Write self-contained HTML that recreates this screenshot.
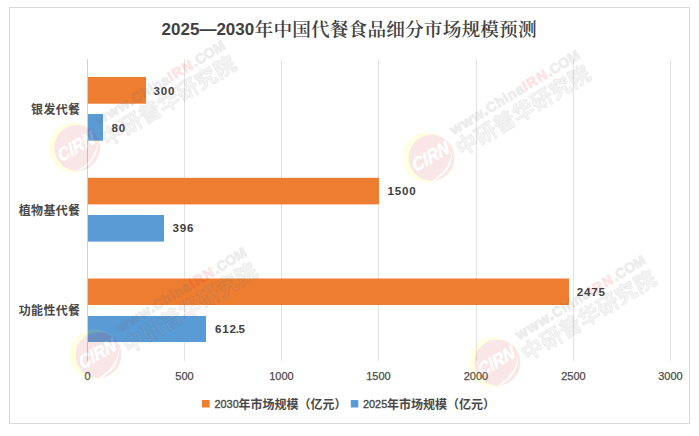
<!DOCTYPE html>
<html lang="zh-CN">
<head>
<meta charset="utf-8">
<title>2025—2030年中国代餐食品细分市场规模预测</title>
<style>
  html, body { margin: 0; padding: 0; background: #ffffff; }
  body { width: 699px; height: 436px; overflow: hidden; }
  svg { display: block; }
  .lat { font-family: "Liberation Sans", "Noto Sans CJK SC", sans-serif; }
  .cjk { font-family: "Liberation Sans", "Noto Serif CJK SC", serif; }
  .title-l { font-family: "Liberation Sans", "Noto Serif CJK SC", sans-serif; font-weight: 700; font-size: 17px; fill: #404040; }
  .title-c { font-family: "Liberation Serif", "Noto Serif CJK SC", serif; font-weight: 600; font-size: 18.67px; letter-spacing: 0.15px; fill: #404040; }
  .ax { font-family: "Liberation Sans", sans-serif; font-size: 11px; fill: #4a4a4a; stroke: #4a4a4a; stroke-width: 0.25px; text-anchor: middle; }
  .dl { font-family: "Liberation Sans", sans-serif; font-size: 11.6px; font-weight: 700; fill: #404040; letter-spacing: 0.8px; }
  .cat { font-family: "Liberation Sans", "Noto Sans CJK SC", sans-serif; font-size: 12px; font-weight: 700; fill: #484848; letter-spacing: 0.3px; text-anchor: end; }
  .lg-l { font-family: "Liberation Sans", sans-serif; font-size: 10.9px; font-weight: 400; fill: #4a4a4a; stroke: #4a4a4a; stroke-width: 0.35px; }
  .lg-c { font-family: "Liberation Sans", "Noto Sans CJK SC", sans-serif; font-size: 12px; font-weight: 700; fill: #484848; }
  .wm-url { font-family: "Liberation Sans", sans-serif; font-weight: 700; font-size: 14px; }
  .wm-cn { font-family: "Liberation Sans", "Noto Sans CJK SC", sans-serif; font-weight: 700; font-size: 21.5px; letter-spacing: 0.35px; }
  .wm-logo { font-family: "Liberation Sans", sans-serif; font-weight: 700; font-style: italic; font-size: 16.5px; }
</style>
</head>
<body>
<svg width="699" height="436" viewBox="0 0 699 436">
  <rect x="0" y="0" width="699" height="436" fill="#ffffff"/>
  <!-- chart frame -->
  <rect x="9.5" y="7.5" width="680" height="416" fill="#ffffff" stroke="#d9d9d9" stroke-width="1"/>

  <!-- gridlines -->
  <g fill="#e2e2e2">
    <rect x="184" y="59" width="1" height="302"/>
    <rect x="281" y="59" width="1" height="302"/>
    <rect x="378" y="59" width="1" height="302"/>
    <rect x="476" y="59" width="1" height="302"/>
    <rect x="573" y="59" width="1" height="302"/>
    <rect x="670" y="59" width="1" height="302"/>
  </g>
  <rect x="87" y="59" width="1" height="302" fill="#d0d0d0"/>

  <!-- bars -->
  <g fill="#ed7d31">
    <rect x="88" y="77" width="58" height="26.7"/>
    <rect x="88" y="177.8" width="291" height="26.6"/>
    <rect x="88" y="278.5" width="481" height="26.5"/>
  </g>
  <g fill="#5b9bd5">
    <rect x="88" y="114" width="15" height="26.7"/>
    <rect x="88" y="215" width="76" height="26.6"/>
    <rect x="88" y="316" width="118" height="26"/>
  </g>

  <!-- title -->
  <text x="161.6" y="34.5" class="title-l">2025—2030</text>
  <text x="254.6" y="35.5" class="title-c">年中国代餐食品细分市场规模预测</text>

  <!-- category labels -->
  <text x="80.3" y="113.5" class="cat">银发代餐</text>
  <text x="80.3" y="214.5" class="cat">植物基代餐</text>
  <text x="80.3" y="315" class="cat">功能性代餐</text>

  <!-- data labels -->
  <text x="153.5" y="95.2" class="dl">300</text>
  <text x="111.6" y="132" class="dl">80</text>
  <text x="387.6" y="195.2" class="dl">1500</text>
  <text x="172.5" y="232" class="dl">396</text>
  <text x="576.7" y="296" class="dl">2475</text>
  <text x="215.1" y="333" class="dl">612<tspan dx="-1.2">.</tspan><tspan dx="-1.2">5</tspan></text>

  <!-- axis labels -->
  <text x="87.5" y="380" class="ax">0</text>
  <text x="184.5" y="380" class="ax">500</text>
  <text x="281.5" y="380" class="ax">1000</text>
  <text x="378.5" y="380" class="ax">1500</text>
  <text x="476" y="380" class="ax">2000</text>
  <text x="573.5" y="380" class="ax">2500</text>
  <text x="670.5" y="380" class="ax">3000</text>

  <!-- legend -->
  <rect x="202" y="400" width="7.7" height="7.5" fill="#ed7d31"/>
  <text x="214.5" y="408" class="lg-l">2030</text>
  <text x="238.5" y="408.5" class="lg-c">年市场规模（亿元）</text>
  <rect x="350.8" y="400" width="7.5" height="7.5" fill="#5b9bd5"/>
  <text x="363" y="408" class="lg-l">2025</text>
  <text x="387" y="408.5" class="lg-c">年市场规模（亿元）</text>
  <!-- watermarks -->
  <defs><filter id="wmblur" x="-20%" y="-20%" width="140%" height="140%"><feGaussianBlur stdDeviation="0.55"/></filter></defs>
  <g transform="translate(75 148)" opacity="0.115" filter="url(#wmblur)">
    <circle cx="-1.8" cy="-0.3" r="25" fill="#ffff10"/>
    <circle cx="2.2" cy="0" r="23" fill="#cf2d2d"/>
    <path d="M 3.4 23.3 Q 23.4 14.6 23 -8.5 Q 21.2 12 2.4 22.7 Z" fill="#ffffff"/>
    <text class="wm-logo" fill="#ffffff" stroke="#ffffff" stroke-width="0.5" text-anchor="middle" transform="rotate(-30) skewX(-6) scale(1 1.12)" x="1.5" y="5">CIRN</text>
    <g transform="rotate(-31.2)">
      <text class="wm-url" x="31.6" y="-6.85" fill="#606060" stroke="#606060" stroke-width="1"><tspan style="font-family:'DejaVu Sans','Liberation Sans',sans-serif;font-size:13.8px">www.</tspan><tspan style="letter-spacing:0.7px">China</tspan><tspan fill="#e8101c" stroke="#e8101c" style="letter-spacing:1.3px">IRN</tspan>.COM</text>
      <text class="wm-cn" x="28.1" y="16" fill="#a8a8a8" stroke="#4a4a4a" stroke-width="0.8">中研普华研究院</text>
    </g>
  </g>
  <g transform="translate(429.5 157.7)" opacity="0.115" filter="url(#wmblur)">
    <circle cx="-1.8" cy="-0.3" r="25" fill="#ffff10"/>
    <circle cx="2.2" cy="0" r="23" fill="#cf2d2d"/>
    <path d="M 3.4 23.3 Q 23.4 14.6 23 -8.5 Q 21.2 12 2.4 22.7 Z" fill="#ffffff"/>
    <text class="wm-logo" fill="#ffffff" stroke="#ffffff" stroke-width="0.5" text-anchor="middle" transform="rotate(-30) skewX(-6) scale(1 1.12)" x="1.5" y="5">CIRN</text>
    <g transform="rotate(-31.2)">
      <text class="wm-url" x="31.6" y="-6.85" fill="#606060" stroke="#606060" stroke-width="1"><tspan style="font-family:'DejaVu Sans','Liberation Sans',sans-serif;font-size:13.8px">www.</tspan><tspan style="letter-spacing:0.7px">China</tspan><tspan fill="#e8101c" stroke="#e8101c" style="letter-spacing:1.3px">IRN</tspan>.COM</text>
      <text class="wm-cn" x="28.1" y="16" fill="#a8a8a8" stroke="#4a4a4a" stroke-width="0.8">中研普华研究院</text>
    </g>
  </g>
  <g transform="translate(96.4 355)" opacity="0.115" filter="url(#wmblur)">
    <circle cx="-1.8" cy="-0.3" r="25" fill="#ffff10"/>
    <circle cx="2.2" cy="0" r="23" fill="#cf2d2d"/>
    <path d="M 3.4 23.3 Q 23.4 14.6 23 -8.5 Q 21.2 12 2.4 22.7 Z" fill="#ffffff"/>
    <text class="wm-logo" fill="#ffffff" stroke="#ffffff" stroke-width="0.5" text-anchor="middle" transform="rotate(-30) skewX(-6) scale(1 1.12)" x="1.5" y="5">CIRN</text>
    <g transform="rotate(-31.2)">
      <text class="wm-url" x="31.6" y="-6.85" fill="#606060" stroke="#606060" stroke-width="1"><tspan style="font-family:'DejaVu Sans','Liberation Sans',sans-serif;font-size:13.8px">www.</tspan><tspan style="letter-spacing:0.7px">China</tspan><tspan fill="#e8101c" stroke="#e8101c" style="letter-spacing:1.3px">IRN</tspan>.COM</text>
      <text class="wm-cn" x="28.1" y="16" fill="#a8a8a8" stroke="#4a4a4a" stroke-width="0.8">中研普华研究院</text>
    </g>
  </g>
  <g transform="translate(495.3 362.6)" opacity="0.115" filter="url(#wmblur)">
    <circle cx="-1.8" cy="-0.3" r="25" fill="#ffff10"/>
    <circle cx="2.2" cy="0" r="23" fill="#cf2d2d"/>
    <path d="M 3.4 23.3 Q 23.4 14.6 23 -8.5 Q 21.2 12 2.4 22.7 Z" fill="#ffffff"/>
    <text class="wm-logo" fill="#ffffff" stroke="#ffffff" stroke-width="0.5" text-anchor="middle" transform="rotate(-30) skewX(-6) scale(1 1.12)" x="1.5" y="5">CIRN</text>
    <g transform="rotate(-31.2)">
      <text class="wm-url" x="31.6" y="-6.85" fill="#606060" stroke="#606060" stroke-width="1"><tspan style="font-family:'DejaVu Sans','Liberation Sans',sans-serif;font-size:13.8px">www.</tspan><tspan style="letter-spacing:0.7px">China</tspan><tspan fill="#e8101c" stroke="#e8101c" style="letter-spacing:1.3px">IRN</tspan>.COM</text>
      <text class="wm-cn" x="28.1" y="16" fill="#a8a8a8" stroke="#4a4a4a" stroke-width="0.8">中研普华研究院</text>
    </g>
  </g>
</svg>
</body>
</html>
